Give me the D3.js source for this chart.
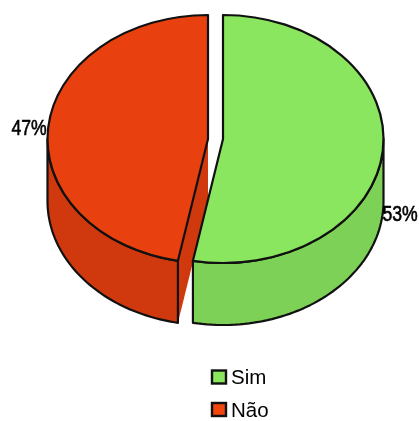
<!DOCTYPE html>
<html><head><meta charset="utf-8">
<script src="https://cdn.jsdelivr.net/npm/d3@7/dist/d3.min.js"></script>
<style>html,body{margin:0;padding:0;background:#fff}svg{display:block;filter:blur(.4px)}text{font-family:"Liberation Sans",Arial,sans-serif;fill:#000}</style>
</head><body><svg id="c" width="419" height="421"></svg>
<script>
const categories=["Sim","Não"];
const values=[53,47];
const labels=["53%","47%"];
const topColors=["#8AE65F","#E8400F"];
const sideColors=["#7CD156","#D0390D"];
const legendColors=["#8AE65F","#F2460F"];

const svg=d3.select("#c");
const rx=160.5, ry=124, depth=62;
const cy=139;
const cxs=[223,208];
const pie=d3.pie().sort(null).value(d=>d)(values);
const arc=d3.arc().innerRadius(0).outerRadius(rx);
const px=(a,cx)=>cx+rx*Math.sin(a), py=a=>cy-ry*Math.cos(a);
const line=d3.line();
const applyS=(s)=>s.attr("stroke","#111").attr("stroke-width",2.2).attr("stroke-linejoin","round");

// red slice first, so that the green slice lies over its cut face
[1,0].forEach(i=>{
  const p=pie[i], cx=cxs[i], g=svg.append("g");
  const a0=Math.max(p.startAngle,Math.PI/2), a1=Math.min(p.endAngle,Math.PI*1.5);
  const n=d3.range(0,61).map(k=>a0+(a1-a0)*k/60);
  const rim=n.map(a=>[px(a,cx),py(a)]);
  const low=n.slice().reverse().map(a=>[px(a,cx),py(a)+depth]);
  if(i===1){
    // cut face of the exploded slice: filled, with no outline of its own
    const a=p.startAngle;
    const w=[[cx,cy],[px(a,cx),py(a)],[px(a,cx),py(a)+depth],[cx,cy+depth]];
    g.append("path").attr("d",line(w)+"Z").attr("fill",sideColors[i]);
  }
  applyS(g.append("path").attr("d",line(rim.concat(low))+"Z").attr("fill",sideColors[i]));
  applyS(g.append("path")
    .attr("transform",`translate(${cx},${cy}) scale(1,${ry/rx})`)
    .attr("d",arc(p)).attr("fill",topColors[i]));
});
svg.selectAll("g path").attr("vector-effect","non-scaling-stroke");

// value labels
const labelPos=[[382.5,221],[11.5,135]];
labels.forEach((t,i)=>{
  svg.append("text").text(t)
    .attr("transform",`translate(${labelPos[i][0]},${labelPos[i][1]}) scale(0.82,1)`)
    .attr("font-size",21.5).attr("stroke","#000").attr("stroke-width",.6);
});

// legend
const ly=d3.scalePoint().domain(categories).range([377,409.5]);
const leg=svg.selectAll(".l").data(categories).join("g").attr("class","l")
  .attr("transform",d=>`translate(0,${ly(d)})`);
leg.append("rect").attr("x",212).attr("y",-6.5).attr("width",14).attr("height",13)
  .attr("fill",(d,i)=>legendColors[i]).attr("stroke","#111").attr("stroke-width",2.4);
leg.append("text").attr("x",231).attr("y",7).attr("font-size",20.5).text(d=>d);
</script></body></html>
